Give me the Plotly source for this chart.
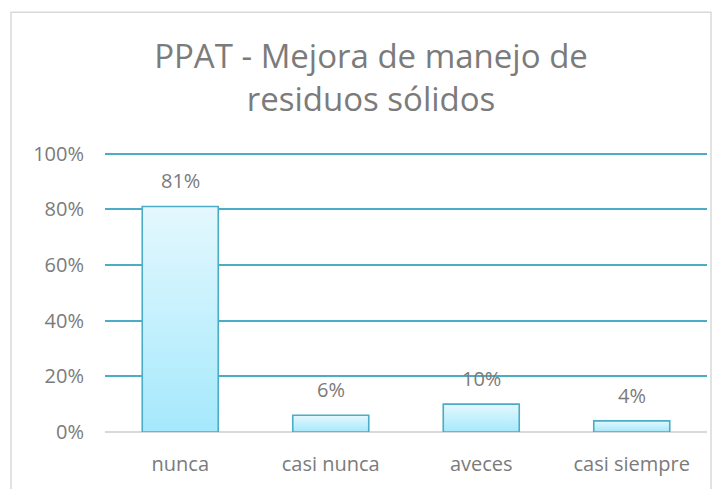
import plotly.graph_objects as go

categories = ["nunca", "casi nunca", "aveces", "casi siempre"]
values = [81, 6, 10, 4]
labels = ["81%", "6%", "10%", "4%"]
y_ticks = [0, 20, 40, 60, 80, 100]
y_ticktext = ["0%", "20%", "40%", "60%", "80%", "100%"]
title_text = "PPAT - Mejora de manejo de<br>residuos sólidos"

FONT = "Open Sans"
TXT = "#7b7b7b"
BLUE = "#4BACC6"
half = 0.2525
YTOP = 102

fig = go.Figure()
for i, v in enumerate(values):
    fig.add_trace(go.Scatter(
        x=[i - half, i + half, i + half, i - half, i - half],
        y=[0, 0, v, v, 0],
        mode="lines", fill="toself",
        line=dict(color=BLUE, width=1.6),
        fillgradient=dict(type="vertical",
                          colorscale=[[0, "#A5E9FC"], [1, "#E4F8FE"]]),
        hoverinfo="skip", showlegend=False,
    ))

for i, (v, t) in enumerate(zip(values, labels)):
    fig.add_annotation(x=i, y=v, text=t, showarrow=False, yanchor="bottom",
                       yshift=10, font=dict(family=FONT, size=20, color=TXT))

W, H = 723, 489
L, R, B = 105, 16, 57
ph = (H - B - 154) * YTOP / 100
T = H - B - ph
pw = W - L - R

fig.add_shape(type="rect", xref="paper", yref="paper",
              x0=(11 - L) / pw, x1=(711 - L) / pw,
              y0=(H - B - 520) / ph, y1=(H - B - 13) / ph,
              line=dict(color="#D9D9D9", width=1.5), fillcolor="rgba(0,0,0,0)",
              layer="below")

fig.update_layout(
    width=W, height=H,
    margin=dict(l=L, r=R, t=T, b=B, autoexpand=False),
    paper_bgcolor="white", plot_bgcolor="white",
    title=dict(text=title_text, x=(371 - L) / pw, xref="paper", xanchor="center",
               y=1 - 68 / H, yanchor="top",
               font=dict(family=FONT, size=33, color=TXT)),
    xaxis=dict(range=[-0.5, 3.5], tickmode="array", tickvals=list(range(len(categories))),
               ticktext=categories, showgrid=False, zeroline=False, showline=False,
               ticks="", ticklabelstandoff=18, automargin=False,
               tickfont=dict(family=FONT, size=20, color=TXT), fixedrange=True),
    yaxis=dict(range=[0, YTOP], tickmode="array", tickvals=y_ticks, ticktext=y_ticktext,
               showgrid=True, gridcolor=BLUE, gridwidth=1.5, zeroline=True,
               zerolinecolor="#D9D9D9", zerolinewidth=1.5, showline=False,
               ticks="", ticklabelstandoff=20, automargin=False,
               tickfont=dict(family=FONT, size=20, color=TXT), fixedrange=True),
)

fig.write_html("out.html", config={"displayModeBar": False},
               post_script="document.body.style.margin='0';document.body.style.padding='0';")
